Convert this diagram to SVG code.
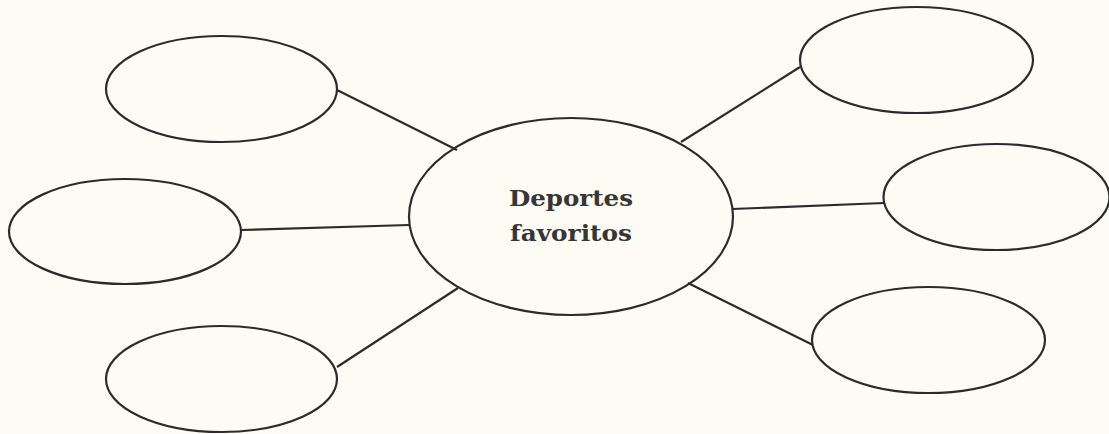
<svg xmlns="http://www.w3.org/2000/svg" width="1109" height="434" viewBox="0 0 1109 434">
<style>
.n{fill:none;stroke:#2b2b2b;stroke-width:2.2}
.c line{stroke:#2b2b2b;stroke-width:2.2}
.t{font-family:"DejaVu Serif","Liberation Serif",serif;font-weight:bold;font-size:23px;fill:#363636;text-anchor:middle}
</style>
<rect width="1109" height="434" fill="#fdfcf4"/>
<g class="c" id="connectors">
<line x1="337" y1="90" x2="457" y2="150"/>
<line x1="241" y1="230" x2="409" y2="225"/>
<line x1="337" y1="367" x2="458" y2="288"/>
<line x1="681" y1="142" x2="800" y2="67"/>
<line x1="732" y1="209" x2="884" y2="203"/>
<line x1="688" y1="283" x2="813" y2="345"/>
</g>
<g id="center">
<ellipse class="n" cx="571" cy="216.5" rx="162" ry="98.5"/>
<text class="t" x="571" y="206" textLength="124" lengthAdjust="spacingAndGlyphs">Deportes</text>
<text class="t" x="571" y="241" textLength="122" lengthAdjust="spacingAndGlyphs">favoritos</text>
</g>
<g id="node-left-top"><ellipse class="n" cx="221.5" cy="89" rx="115.5" ry="53"/></g>
<g id="node-left-mid"><ellipse class="n" cx="125" cy="231.5" rx="116" ry="52.5"/></g>
<g id="node-left-bottom"><ellipse class="n" cx="221.5" cy="379" rx="115.5" ry="53"/></g>
<g id="node-right-top"><ellipse class="n" cx="916.5" cy="60" rx="116.5" ry="53"/></g>
<g id="node-right-mid"><ellipse class="n" cx="996.5" cy="197" rx="113" ry="53"/></g>
<g id="node-right-bottom"><ellipse class="n" cx="928.5" cy="340" rx="116.5" ry="53"/></g>
</svg>
